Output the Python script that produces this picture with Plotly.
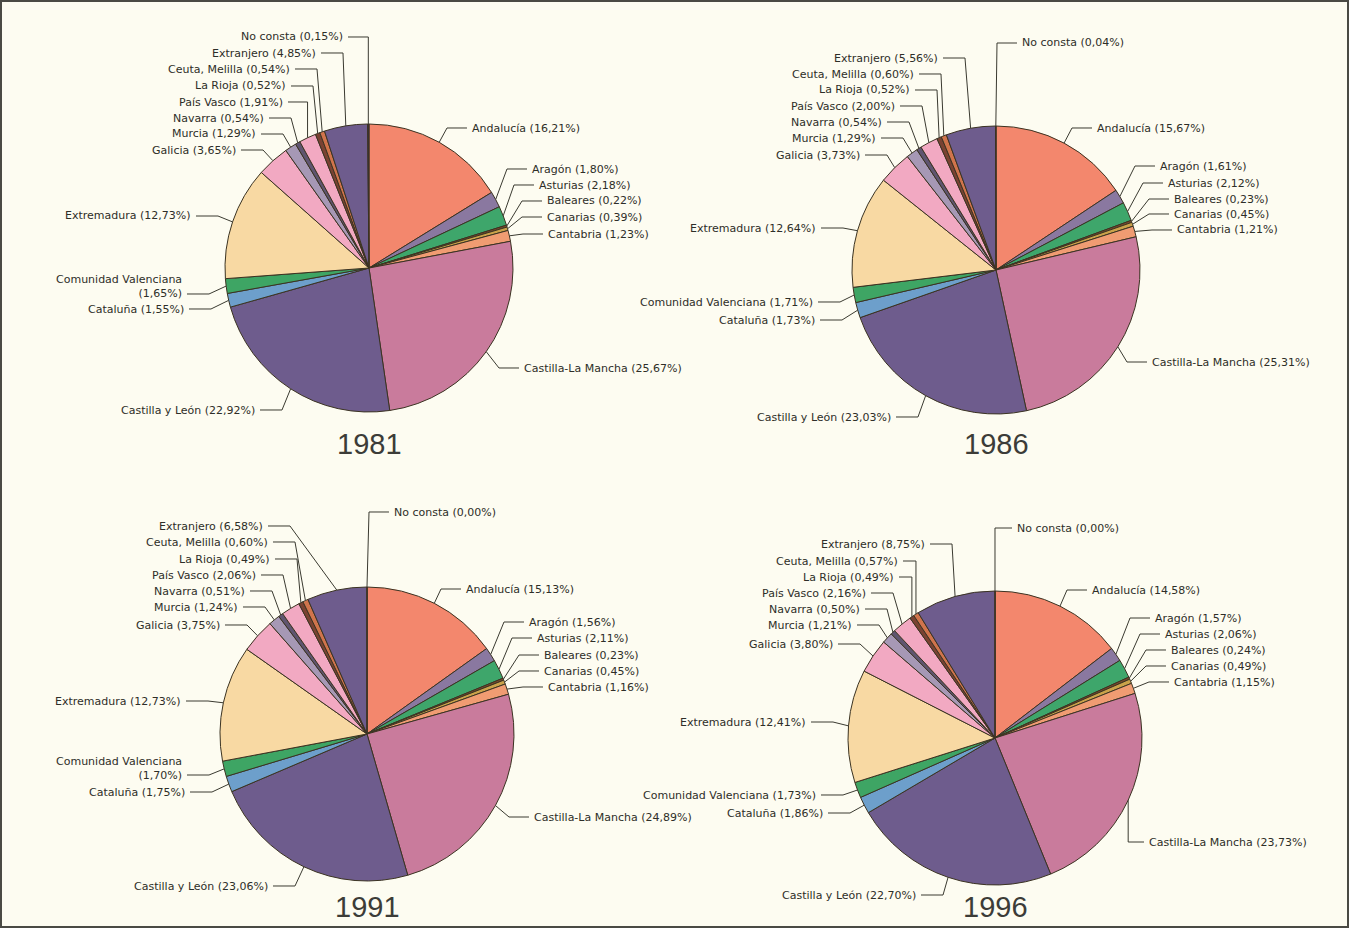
import math
import plotly.graph_objects as go

W, H = 1349, 928

regions = ["Andalucía", "Aragón", "Asturias", "Baleares", "Canarias", "Cantabria",
           "Castilla-La Mancha", "Castilla y León", "Cataluña", "Comunidad Valenciana",
           "Extremadura", "Galicia", "Murcia", "Navarra", "País Vasco", "La Rioja",
           "Ceuta, Melilla", "Extranjero", "No consta"]

years = ["1981", "1986", "1991", "1996"]

v1981 = [16.21, 1.80, 2.18, 0.22, 0.39, 1.23, 25.67, 22.92, 1.55, 1.65,
         12.73, 3.65, 1.29, 0.54, 1.91, 0.52, 0.54, 4.85, 0.15]
v1986 = [15.67, 1.61, 2.12, 0.23, 0.45, 1.21, 25.31, 23.03, 1.73, 1.71,
         12.64, 3.73, 1.29, 0.54, 2.00, 0.52, 0.60, 5.56, 0.04]
v1991 = [15.13, 1.56, 2.11, 0.23, 0.45, 1.16, 24.89, 23.06, 1.75, 1.70,
         12.73, 3.75, 1.24, 0.51, 2.06, 0.49, 0.60, 6.58, 0.00]
v1996 = [14.58, 1.57, 2.06, 0.24, 0.49, 1.15, 23.73, 22.70, 1.86, 1.73,
         12.41, 3.80, 1.21, 0.50, 2.16, 0.49, 0.57, 8.75, 0.00]
series = [v1981, v1986, v1991, v1996]

colors = ["#f3876d", "#8a78a0", "#3ea66b", "#7b4a2c", "#c9a24a", "#f09c72",
          "#c97b9c", "#6e5c8d", "#6d9fcb", "#3ea564",
          "#f8d9a3", "#f2a9c2", "#a698b5", "#5f5570", "#f2a9c2", "#7a4232",
          "#d0744c", "#6e5c8d", "#3a2f45"]

# ---- layout (pixel geometry of each pie, label anchors relative to its centre) ----
pie_geo = [(369, 268, 144, 444), (996, 270, 144, 444),
           (367, 734, 147, 907), (995, 738, 147, 907)]

lab_off = [
    [(101, -140), (161, -99), (168, -83), (176, -67), (176, -51), (177, -34), (153, 100),
     (-112, 142), (-183, 41), (-185, 26), (-176, -52), (-131, -118), (-111, -134),
     (-103, -150), (-84, -166), (-81, -182), (-77, -199), (-51, -215), (-24, -231)],
    [(99, -142), (162, -104), (170, -87), (176, -71), (176, -56), (179, -40), (154, 92),
     (-103, 147), (-179, 50), (-181, 32), (-178, -42), (-134, -115), (-118, -132),
     (-112, -148), (-99, -164), (-84, -180), (-80, -196), (-56, -212), (24, -227)],
    [(97, -145), (160, -112), (168, -96), (175, -79), (175, -63), (179, -47), (165, 83),
     (-97, 152), (-180, 58), (-183, 41), (-184, -33), (-145, -109), (-127, -127),
     (-120, -143), (-109, -159), (-95, -175), (-97, -192), (-102, -208), (25, -222)],
    [(95, -148), (158, -120), (168, -104), (174, -88), (174, -72), (177, -56), (152, 104),
     (-77, 157), (-170, 75), (-177, 57), (-187, -16), (-160, -94), (-141, -113),
     (-133, -129), (-127, -145), (-99, -161), (-95, -177), (-68, -194), (20, -210)],
]
two_line_cv = [True, False, True, False]

LABEL_FONT = dict(family="DejaVu Sans, Verdana, sans-serif", size=11, color="#2e2e28")
LINE_COL = "#3a3a30"


def px(x):
    return x / W


def py(y):
    return 1 - y / H


def fmt(v):
    return "(" + f"{v:.2f}".replace(".", ",") + "%)"


fig = go.Figure()
shapes = []
annotations = []

for k, vals in enumerate(series):
    cx, cy, r, ty = pie_geo[k]
    fig.add_trace(go.Pie(
        labels=regions, values=vals, sort=False, direction="clockwise", rotation=0,
        marker=dict(colors=colors, line=dict(color="#3b3322", width=1)),
        textinfo="none", hoverinfo="label+value", showlegend=False,
        domain=dict(x=[px(cx - r), px(cx + r)], y=[py(cy + r), py(cy - r)]),
    ))
    total = sum(vals)
    cum = 0.0
    for i, v in enumerate(vals):
        mid = (cum + v / 2) / total * 2 * math.pi
        cum += v
        Pxp = cx + r * math.sin(mid)
        Pyp = cy - r * math.cos(mid)
        dx, dy = lab_off[k][i]
        ax, ay = cx + dx, cy + dy
        name = regions[i]
        if i == 9 and two_line_cv[k]:
            text = name + "<br>" + fmt(v)
            ty_text = ay - 7
        else:
            text = name + " " + fmt(v)
            ty_text = ay
        if dx > 0:
            annotations.append(dict(x=px(ax), y=py(ty_text), xref="paper", yref="paper",
                                    text=text, showarrow=False, xanchor="left",
                                    yanchor="middle", align="left", font=LABEL_FONT))
            sx = ax - 3
            ex = max(Pxp, sx - 20)
        else:
            annotations.append(dict(x=px(ax), y=py(ty_text), xref="paper", yref="paper",
                                    text=text, showarrow=False, xanchor="right",
                                    yanchor="middle", align="right", font=LABEL_FONT))
            sx = ax + 3
            ex = min(Pxp, sx + 22)
        path = (f"M {px(sx):.5f},{py(ay):.5f} L {px(ex):.5f},{py(ay):.5f} "
                f"L {px(Pxp):.5f},{py(Pyp):.5f}")
        shapes.append(dict(type="path", path=path, xref="paper", yref="paper",
                           line=dict(color=LINE_COL, width=1)))
    annotations.append(dict(x=px(cx), y=py(ty), xref="paper", yref="paper",
                            text=years[k], showarrow=False, xanchor="center",
                            yanchor="middle",
                            font=dict(family="Liberation Sans, Arial, sans-serif",
                                      size=29, color="#3c3c38")))

shapes.append(dict(type="rect", xref="paper", yref="paper", x0=px(1), x1=px(W - 1),
                   y0=py(H - 1), y1=py(1), line=dict(color="#4a4a44", width=2)))

fig.update_layout(
    width=W, height=H, margin=dict(l=0, r=0, t=0, b=0),
    paper_bgcolor="#fdfcf1", plot_bgcolor="#fdfcf1",
    shapes=shapes, annotations=annotations, showlegend=False,
)

fig.write_html("out.html", config={"displayModeBar": False},
               post_script="document.body.style.margin='0';")
